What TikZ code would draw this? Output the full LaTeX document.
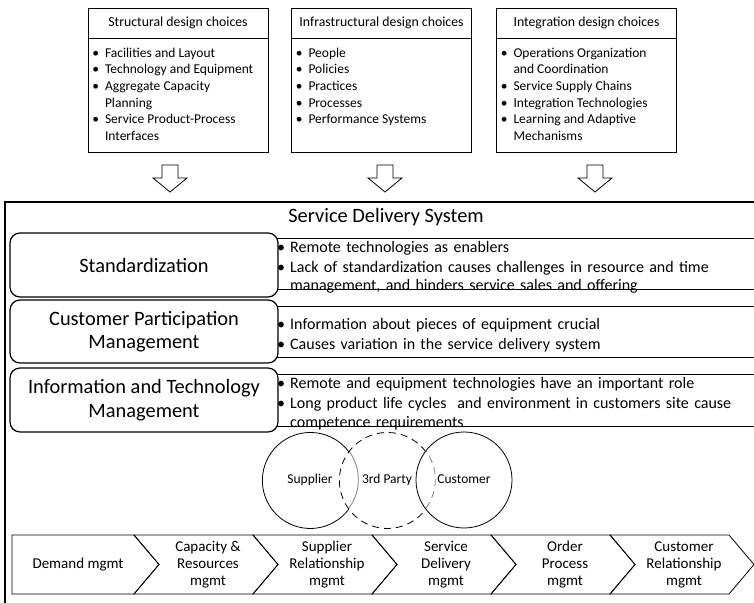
\documentclass[tikz,border=0pt]{standalone}
\usepackage{fontspec}
\setmainfont{Carlito}
\usepackage{enumitem}
\usetikzlibrary{calc,positioning}

\newcommand{\choicelist}[1]{\parbox[t][94pt][t]{172pt}{\begin{itemize}[leftmargin=13pt,labelsep=6pt,itemsep=0pt,parsep=0pt,topsep=0pt,partopsep=0pt,label=\textbullet]#1\end{itemize}}}
\newcommand{\notelist}[1]{\begin{itemize}[leftmargin=12pt,labelsep=5pt,itemsep=1.5pt,parsep=0pt,topsep=0pt,partopsep=0pt,label=\textbullet]#1\end{itemize}}

\begin{document}
\begin{tikzpicture}[x=1pt,y=1pt,
  headbox/.style={draw,thick,minimum width=180,minimum height=30,inner sep=0pt,outer sep=0pt,font=\fontsize{13.8}{16}\selectfont},
  listbox/.style={draw,thick,minimum width=180,inner xsep=4pt,inner ysep=10pt,outer sep=0pt,anchor=north,font=\fontsize{13.5}{16.6}\selectfont},
  blockarrow/.style={draw,thick,fill=white,line join=miter},
  topicbox/.style={draw,very thick,rounded corners=10pt,fill=white,minimum width=268,align=center,font=\fontsize{20.4}{23.5}\selectfont},
  notebox/.style={draw,thick,minimum width=500,anchor=west},
  notetext/.style={anchor=west,text width=470,inner sep=0pt,font=\fontsize{16}{18.5}\selectfont},
  party/.style={circle,minimum size=96,inner sep=0pt,outer sep=0pt,text height=9.5pt,text depth=3pt,font=\fontsize{13.5}{16}\selectfont},
  thirdline/.style={thick,dash pattern=on 7pt off 5pt},
  stage/.style={draw,thick,line join=miter},
  stagetext/.style={align=center,font=\fontsize{15}{17}\selectfont}]
\useasboundingbox (0,0) rectangle (754,602);
\clip (0,0) rectangle (754,602);

\node[headbox] (structhead) at (178,579) {Structural design choices};
\node[listbox] (struct) at (structhead.south) {\choicelist{
  \item Facilities and Layout
  \item Technology and Equipment
  \item Aggregate Capacity\newline Planning
  \item Service Product-Process\newline Interfaces}};
\node[headbox] (infrahead) at (381.5,579) {Infrastructural design choices};
\node[listbox] (infra) at (infrahead.south) {\choicelist{
  \item People
  \item Policies
  \item Practices
  \item Processes
  \item Performance Systems}};
\node[headbox] (integhead) at (586.5,579) {Integration design choices};
\node[listbox] (integ) at (integhead.south) {\choicelist{
  \item Operations Organization\newline and Coordination
  \item Service Supply Chains
  \item Integration Technologies
  \item Learning and Adaptive\newline Mechanisms}};

\foreach \x in {170,385,595}
  \draw[blockarrow] (\x-8,437) -- (\x+8,437) -- (\x+8,424) -- (\x+17,424) -- (\x,410) -- (\x-17,424) -- (\x-8,424) -- cycle;

\draw[very thick] (760,400) -| (5,-5);
\node[font=\fontsize{20.4}{24}\selectfont] (sds) at (386,385) {Service Delivery System};

\node[notebox,minimum height=51] (stdbox) at (270,338.5) {};
\node[notebox,minimum height=51] (cpmbox) at (270,270.5) {};
\node[notebox,minimum height=52] (itmbox) at (270,202) {};

\node[topicbox,minimum height=64] (std) at (144,337) {Standardization};
\node[topicbox,minimum height=63] (cpm) at (144,270.5) {Customer Participation\\Management};
\node[topicbox,minimum height=64] (itm) at (144,202) {Information and Technology\\Management};

\node[notetext] (stdnote) at (278,338.5) {\notelist{
  \item Remote technologies as enablers
  \item Lack of standardization causes challenges in resource and time\newline management, and hinders service sales and offering}};
\node[notetext] (cpmnote) at (278,270.5) {\notelist{
  \item Information about pieces of equipment crucial
  \item Causes variation in the service delivery system}};
\node[notetext] (itmnote) at (278,202) {\notelist{
  \item Remote and equipment technologies have an important role
  \item Long product life cycles\ \ and environment in customers site cause\newline competence requirements}};

\node[party] (sup) at (310,122) {Supplier};
\node[party] (third) at (387,122) {3rd Party};
\node[party,draw,thick] (cust) at (464,122) {Customer};
\draw[thick] (sup.36.7) arc[start angle=36.7,end angle=323.3,radius=48];
\draw[thick,gray] (sup.-36.7) arc[start angle=-36.7,end angle=36.7,radius=48];
\draw[thirdline] (third.36.7) arc[start angle=36.7,end angle=323.3,radius=48];
\draw[thirdline,gray] (third.-36.7) arc[start angle=-36.7,end angle=36.7,radius=48];

\draw[stage] (12,67) -- (134,67) -- (159,37.5) -- (134,8) -- (12,8) -- cycle;
\foreach \i in {0,...,4}
  \draw[stage] ({134+119*\i},67) -- ({253+119*\i},67) -- ({278+119*\i},37.5) -- ({253+119*\i},8) -- ({134+119*\i},8) -- ({159+119*\i},37.5) -- cycle;
\node[stagetext] (demand) at (78,37.5) {Demand mgmt};
\foreach \name/\txt [count=\i from 0] in {capacity/{Capacity \&\\Resources\\mgmt},supplier/{Supplier\\Relationship\\mgmt},delivery/{Service\\Delivery\\mgmt},order/{Order\\Process\\mgmt},customer/{Customer\\Relationship\\mgmt}}
  \node[stagetext] (\name) at ({208+119*\i},37.5) {\txt};
\end{tikzpicture}
\end{document}
